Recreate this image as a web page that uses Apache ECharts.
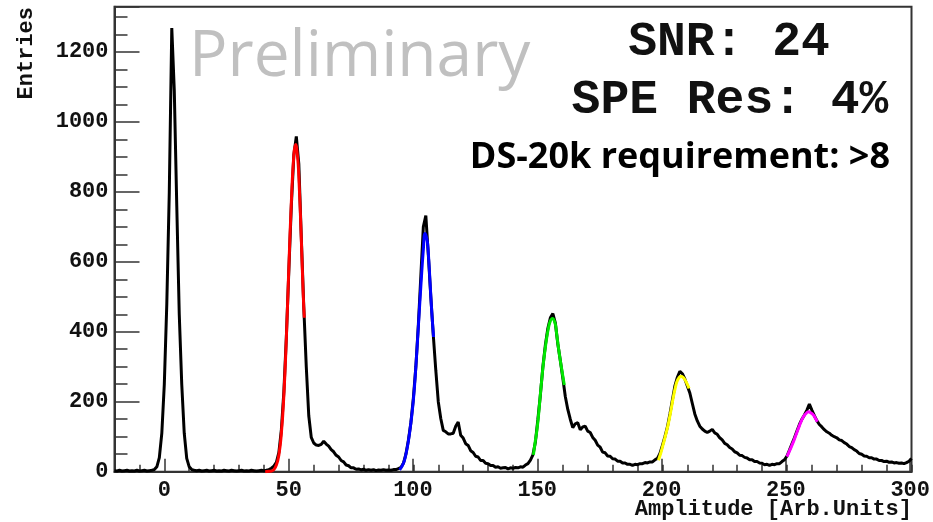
<!DOCTYPE html>
<html><head><meta charset="utf-8">
<script src="https://cdn.jsdelivr.net/npm/echarts@6/dist/echarts.min.js"></script>
<style>html,body{margin:0;padding:0;background:#fff}#c{width:933px;height:522px}</style>
</head><body><div id="c"></div>
<script>
// Histogram: one value per 1-unit bin, first bin centred at amplitude -20
const binStart = -20;
const binWidth = 1;
const counts = [
  3,2,4,2,3,4,2,3,2,4,            // -20..-11
  2,3,4,2,3,4,6,14,40,110,        // -10..-1
  250,480,800,1268,1090,760,450,250,110,38, // 0..9
  14,6,4,3,4,2,3,4,2,3,           // 10..19
  4,2,3,2,4,3,2,4,3,2,            // 20..29
  3,4,2,3,2,4,3,2,3,4,            // 30..39
  3,4,6,10,16,27,55,120,228,385,  // 40..49
  575,760,905,958,880,670,470,300,160,98, // 50..59
  82,76,75,78,87,79,73,63,57,47,  // 60..69
  42,32,28,19,17,11,11,7,8,5,     // 70..79
  7,4,6,4,6,3,5,4,6,4,            // 80..89
  5,4,6,6,9,12,24,50,90,140,      // 90..99
  210,300,420,560,700,732,620,500,390,290, // 100..109
  200,152,118,114,108,108,110,130,142,104, // 110..119
  96,80,75,60,55,44,42,32,32,24,  // 120..129
  23,18,18,13,14,10,11,12,8,11,   // 130..139
  10,12,11,14,13,19,23,33,48,85,  // 140..149
  150,220,300,362,410,440,452,425,365,318, // 150..159
  268,215,178,150,126,137,140,120,128,130, // 160..169
  116,112,98,90,76,70,56,54,45,44, // 170..179
  37,36,30,30,25,25,21,21,18,21,  // 180..189
  20,23,23,26,25,28,28,34,38,52,  // 190..199
  75,100,128,165,205,245,270,287,280,265, // 200..209
  245,225,195,165,145,130,122,116,112,116, // 210..219
  121,111,107,97,91,81,77,69,65,57, // 220..229
  54,47,46,41,39,34,34,29,29,25,  // 230..239
  24,20,21,18,21,20,23,23,29,34,  // 240..249
  45,62,80,97,116,135,150,162,176,193, // 250..259
  176,160,146,135,128,120,114,110,104,100, // 260..269
  97,91,89,83,79,72,69,63,59,52,  // 270..279
  50,45,44,40,40,36,36,32,32,29,  // 280..289
  30,27,28,25,26,24,25,23,26,30,  // 290..299
  38                              // 300
];

// Fit curves: [amplitude, entries]
const fitRed = [[40.5,0],[42,1],[43,2],[44,6],[45,19],[46,48],[47,110],[48,219],[49,382],[50,584],[51,770],[52,905],[52.7,935],[53.5,900],[54,845],[55,666],[55.7,520],[56.2,440]];
const fitBlue = [[94.5,5],[96,24],[97,50],[98,88],[99,140],[100,205],[101,300],[102,415],[103,530],[104,635],[104.7,681],[105.5,662],[106,625],[106.7,540],[107.4,455],[108.1,385]];
const fitGreen = [[148.2,48],[149,90],[149.6,119],[150.3,165],[150.9,214],[151.5,260],[152.2,310],[152.9,350],[153.6,386],[154.3,413],[154.9,429],[155.8,438],[156.9,424],[157.5,395],[158.2,357],[158.9,322],[159.6,291],[160.6,248]];
const fitYellow = [[198.4,33],[199.4,55],[200.4,81],[201.4,108],[202.4,138],[203.4,175],[204.4,214],[205.1,238],[205.8,257],[206.6,268],[207.4,273],[208.2,270],[209.1,262],[209.9,251],[210.7,238]];
const fitMagenta = [[250.0,43],[251.3,64],[252.6,86],[253.6,105],[254.6,124],[255.6,142],[256.6,157],[257.6,166],[258.6,171],[259.6,168],[260.6,162],[261.4,153],[262.2,143]];

const xRange = [-20, 300];
const yRange = [0, 1329];
const xMajorStep = 50, xMinorStep = 10;
const yMajorStep = 200, yMinorStep = 50;

const L = 114.5, R = 911.5, T = 6.7, B = 471.7;
const pxPerUnit = (R - L) / (xRange[1] - xRange[0]);
const axisColor = '#333';
const mono = '"Liberation Mono", "DejaVu Sans Mono", monospace';

const histData = counts.map((v, i) => [binStart + i * binWidth, v]);

const chart = echarts.init(document.getElementById('c'), null, {renderer: 'canvas'});
const fitSeries = (data, color) => ({
  type: 'line', xAxisIndex: 0, yAxisIndex: 0, data: data, smooth: true,
  symbol: 'none', lineStyle: {color: color, width: 3}, z: 4, silent: true
});
chart.setOption({
  animation: false,
  backgroundColor: '#fff',
  grid: [
    {left: L, top: T, width: R - L, height: B - T, show: true, borderColor: axisColor, borderWidth: 2, backgroundColor: 'transparent', containLabel: false},
    {left: L + (0 - xRange[0]) * pxPerUnit, top: T, width: (xRange[1] - 0) * pxPerUnit, height: B - T, show: false, containLabel: false}
  ],
  xAxis: [
    {gridIndex: 0, type: 'value', position: 'bottom', min: xRange[0], max: xRange[1], interval: xMinorStep,
     axisLine: {show: true, onZero: false, lineStyle: {color: axisColor, width: 2}},
     axisTick: {show: true, inside: true, length: 7, lineStyle: {color: axisColor, width: 1.5}},
     axisLabel: {show: false}, splitLine: {show: false}},
    {gridIndex: 1, type: 'value', position: 'bottom', min: 0, max: xRange[1], interval: xMajorStep,
     axisLine: {show: false, onZero: false},
     axisTick: {show: true, inside: true, length: 13, lineStyle: {color: axisColor, width: 1.5}},
     axisLabel: {show: true, margin: 8, fontFamily: mono, fontWeight: 'bold', fontSize: 22, color: '#111'},
     splitLine: {show: false}}
  ],
  yAxis: [
    {gridIndex: 0, type: 'value', position: 'left', min: yRange[0], max: yRange[1], interval: yMajorStep,
     axisLine: {show: true, onZero: false, lineStyle: {color: axisColor, width: 2}},
     axisTick: {show: true, inside: true, length: 25, lineStyle: {color: axisColor, width: 1.5}},
     axisLabel: {show: true, margin: 6, fontFamily: mono, fontWeight: 'bold', fontSize: 22, color: '#111',
                 formatter: v => (v % yMajorStep === 0 ? String(v) : '')},
     splitLine: {show: false}},
    {gridIndex: 0, type: 'value', position: 'left', min: yRange[0], max: yRange[1], interval: yMinorStep,
     axisLine: {show: false, onZero: false},
     axisTick: {show: true, inside: true, length: 13, lineStyle: {color: axisColor, width: 1.5}},
     axisLabel: {show: false}, splitLine: {show: false}},
    {gridIndex: 1, type: 'value', min: yRange[0], max: yRange[1], show: false}
  ],
  series: [
    {type: 'line', xAxisIndex: 0, yAxisIndex: 0, data: histData, symbol: 'none',
     lineStyle: {color: '#000', width: 3}, z: 3, silent: true},
    fitSeries(fitRed, '#ff0000'),
    fitSeries(fitBlue, '#0000ff'),
    fitSeries(fitGreen, '#00e600'),
    fitSeries(fitYellow, '#ffff00'),
    fitSeries(fitMagenta, '#ff00ff')
  ],
  graphic: [
    {type: 'text', x: 26, y: 7, rotation: Math.PI / 2,
     style: {text: 'Entries', font: 'bold 22px ' + mono, fill: '#111', textAlign: 'right', textVerticalAlign: 'middle'}},
    {type: 'text', x: 912, y: 509,
     style: {text: 'Amplitude [Arb.Units]', font: 'bold 22px ' + mono, fill: '#111', textAlign: 'right', textVerticalAlign: 'middle'}},
    {type: 'text', x: 189, y: 58,
     style: {text: 'Preliminary', font: '64px "Open Sans", sans-serif', fill: '#c0c0c0', textAlign: 'left', textVerticalAlign: 'middle'}},
    {type: 'text', x: 729, y: 43,
     style: {text: 'SNR: 24', font: 'bold 48px ' + mono, fill: '#111', textAlign: 'center', textVerticalAlign: 'middle'}},
    {type: 'text', x: 730, y: 101,
     style: {text: 'SPE Res: 4%', font: 'bold 48px ' + mono, fill: '#111', textAlign: 'center', textVerticalAlign: 'middle'}},
    {type: 'text', x: 890, y: 158,
     style: {text: 'DS-20k requirement: >8', font: 'bold 36px "Open Sans", sans-serif', fill: '#000', textAlign: 'right', textVerticalAlign: 'middle'}}
  ]
});
</script></body></html>
